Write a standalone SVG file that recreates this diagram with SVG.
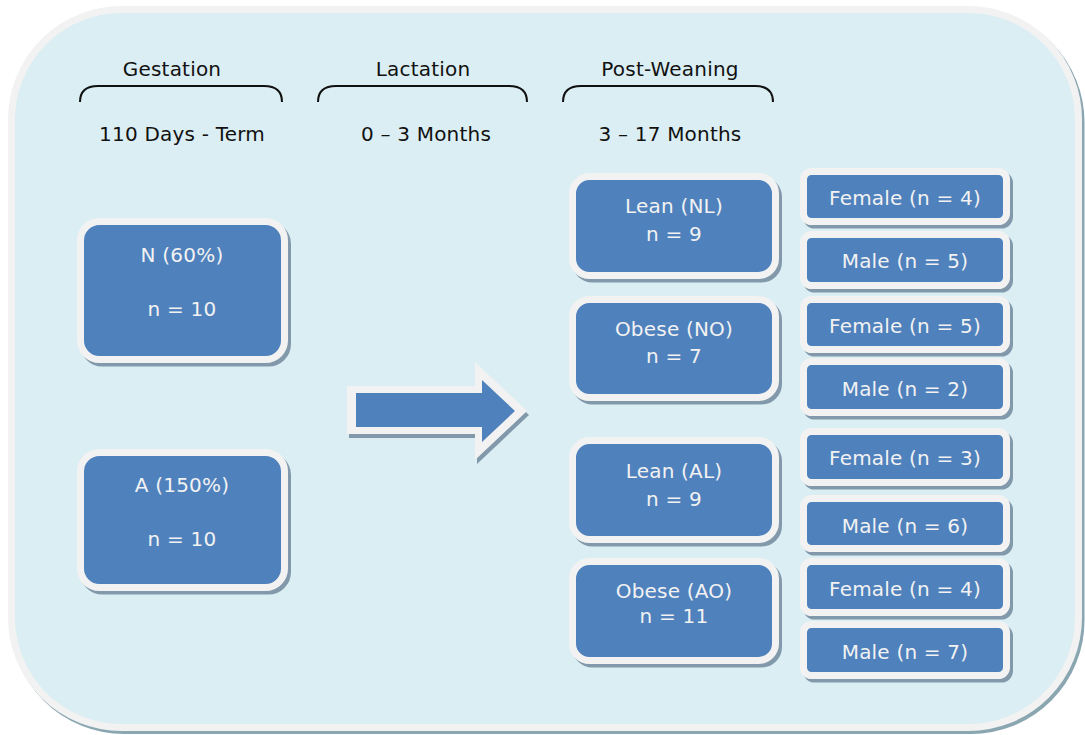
<svg xmlns="http://www.w3.org/2000/svg" width="1085" height="735" viewBox="0 0 1085 735">
  <defs>
    <style>
      .panel { fill: #dbeef3; stroke: #f2f2f2; stroke-width: 7; }
      .panel-shadow { fill: none; stroke: #8aa6b0; stroke-width: 7; }
      .box { fill: #4f81bd; stroke: #f2f2f2; stroke-width: 7; }
      .shadow { fill: #8299ab; stroke: #8299ab; stroke-width: 7; }
      .head { font-family: "DejaVu Sans", Verdana, sans-serif; font-size: 20px; letter-spacing: 0.2px; fill: #111; text-anchor: middle; }
      .lbl { font-family: "DejaVu Sans", Verdana, sans-serif; font-size: 20px; letter-spacing: 0.2px; fill: #f2f2f2; text-anchor: middle; }
      .brace { fill: none; stroke: #111; stroke-width: 2; }
    </style>
  </defs>

  <!-- background panel -->
  <rect class="panel-shadow" x="14" y="12.5" width="1067" height="718" rx="110"/>
  <rect class="panel" x="11.5" y="9.5" width="1067" height="718" rx="110"/>

  <!-- period headings -->
  <g id="gestation">
    <text class="head" x="172" y="76">Gestation</text>
    <path class="brace" d="M80,102 Q80,86 98,86 L264,86 Q282,86 282,102"/>
    <text class="head" x="182" y="141">110 Days - Term</text>
  </g>
  <g id="lactation">
    <text class="head" x="423" y="76">Lactation</text>
    <path class="brace" d="M318,102 Q318,86 336,86 L509,86 Q527,86 527,102"/>
    <text class="head" x="426" y="141">0 – 3 Months</text>
  </g>
  <g id="post-weaning">
    <text class="head" x="670" y="76">Post-Weaning</text>
    <path class="brace" d="M563,102 Q563,86 581,86 L755,86 Q773,86 773,102"/>
    <text class="head" x="670" y="141">3 – 17 Months</text>
  </g>

  <!-- gestation diet groups -->
  <g id="node-n">
    <rect class="shadow" x="83.5" y="225" width="204" height="138" rx="19"/>
    <rect class="box" x="80.5" y="221.5" width="204" height="138" rx="19"/>
    <text class="lbl" x="182" y="262">N (60%)</text>
    <text class="lbl" x="182" y="316">n = 10</text>
  </g>
  <g id="node-a">
    <rect class="shadow" x="83.5" y="456" width="204" height="135" rx="19"/>
    <rect class="box" x="80.5" y="452.5" width="204" height="135" rx="19"/>
    <text class="lbl" x="182" y="492">A (150%)</text>
    <text class="lbl" x="182" y="546">n = 10</text>
  </g>

  <!-- transition arrow: shadow, light rim, blue body -->
  <g id="connectors">
    <polygon points="347,386 475,386 475,362 527,411 475,460 475,434 347,434" fill="#8299ab" transform="translate(2,4)"/>
    <polygon points="347,386 475,386 475,362 527,411 475,460 475,434 347,434" fill="#f2f2f2"/>
    <polygon points="356,393 482,393 482,380 515,411 482,442 482,427 356,427" fill="#4f81bd"/>
  </g>

  <!-- post-weaning groups -->
  <g id="node-nl">
    <rect class="shadow" x="575.5" y="180" width="203" height="99" rx="17"/>
    <rect class="box" x="572.5" y="176.5" width="203" height="99" rx="17"/>
    <text class="lbl" x="674" y="213">Lean (NL)</text>
    <text class="lbl" x="674" y="241">n = 9</text>
  </g>
  <g id="node-no">
    <rect class="shadow" x="575.5" y="303" width="203" height="98" rx="17"/>
    <rect class="box" x="572.5" y="299.5" width="203" height="98" rx="17"/>
    <text class="lbl" x="674" y="336">Obese (NO)</text>
    <text class="lbl" x="674" y="363">n = 7</text>
  </g>
  <g id="node-al">
    <rect class="shadow" x="575.5" y="444" width="203" height="99" rx="17"/>
    <rect class="box" x="572.5" y="440.5" width="203" height="99" rx="17"/>
    <text class="lbl" x="674" y="478">Lean (AL)</text>
    <text class="lbl" x="674" y="506">n = 9</text>
  </g>
  <g id="node-ao">
    <rect class="shadow" x="575.5" y="565" width="203" height="99" rx="17"/>
    <rect class="box" x="572.5" y="561.5" width="203" height="99" rx="17"/>
    <text class="lbl" x="674" y="598">Obese (AO)</text>
    <text class="lbl" x="674" y="623">n = 11</text>
  </g>

  <!-- sex breakdown -->
  <g id="node-nl-female">
    <rect class="shadow" x="806.5" y="175" width="203" height="50" rx="8"/>
    <rect class="box" x="803.5" y="171.5" width="203" height="50" rx="8"/>
    <text class="lbl" x="905" y="205">Female (n = 4)</text>
  </g>
  <g id="node-nl-male">
    <rect class="shadow" x="806.5" y="238" width="203" height="51" rx="8"/>
    <rect class="box" x="803.5" y="234.5" width="203" height="51" rx="8"/>
    <text class="lbl" x="905" y="268">Male (n = 5)</text>
  </g>
  <g id="node-no-female">
    <rect class="shadow" x="806.5" y="303" width="203" height="50" rx="8"/>
    <rect class="box" x="803.5" y="299.5" width="203" height="50" rx="8"/>
    <text class="lbl" x="905" y="333">Female (n = 5)</text>
  </g>
  <g id="node-no-male">
    <rect class="shadow" x="806.5" y="365" width="203" height="51" rx="8"/>
    <rect class="box" x="803.5" y="361.5" width="203" height="51" rx="8"/>
    <text class="lbl" x="905" y="396">Male (n = 2)</text>
  </g>
  <g id="node-al-female">
    <rect class="shadow" x="806.5" y="435" width="203" height="51" rx="8"/>
    <rect class="box" x="803.5" y="431.5" width="203" height="51" rx="8"/>
    <text class="lbl" x="905" y="465">Female (n = 3)</text>
  </g>
  <g id="node-al-male">
    <rect class="shadow" x="806.5" y="502" width="203" height="50" rx="8"/>
    <rect class="box" x="803.5" y="498.5" width="203" height="50" rx="8"/>
    <text class="lbl" x="905" y="533">Male (n = 6)</text>
  </g>
  <g id="node-ao-female">
    <rect class="shadow" x="806.5" y="565" width="203" height="51" rx="8"/>
    <rect class="box" x="803.5" y="561.5" width="203" height="51" rx="8"/>
    <text class="lbl" x="905" y="596">Female (n = 4)</text>
  </g>
  <g id="node-ao-male">
    <rect class="shadow" x="806.5" y="628" width="203" height="51" rx="8"/>
    <rect class="box" x="803.5" y="624.5" width="203" height="51" rx="8"/>
    <text class="lbl" x="905" y="659">Male (n = 7)</text>
  </g>
</svg>
